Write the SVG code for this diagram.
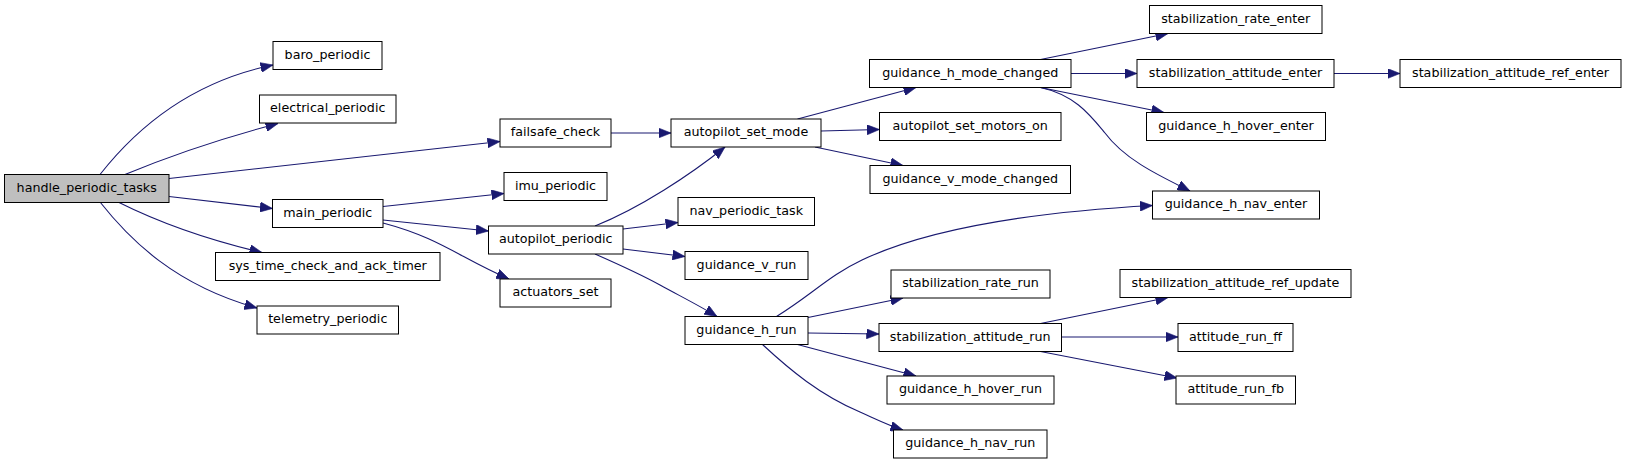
<svg xmlns="http://www.w3.org/2000/svg" width="1627" height="464" viewBox="0 0 1627 464">
<style>
.n rect{fill:#ffffff;stroke:#000000;stroke-width:1}
.n.root rect{fill:#bfbfbf}
.n text{font-family:"DejaVu Sans","Liberation Sans",sans-serif;font-size:12.7px;text-anchor:middle;fill:#000000}
#edges path{fill:none;stroke:#191970;stroke-width:1.1;marker-end:url(#ah)}
</style>
<defs>
<marker id="ah" markerUnits="userSpaceOnUse" markerWidth="13" markerHeight="10" refX="12.5" refY="5" orient="auto">
<path d="M0,0 L12.5,5 L0,10 z" fill="#191970" stroke="#191970" stroke-width="0.6"/>
</marker>
</defs>
<rect x="0" y="0" width="1627" height="464" fill="#ffffff"/>
<g id="edges">
<path d="M100,174.5 C135,130 190,82 273,65"/>
<path d="M125,174.5 C160,160 215,140 278,123.5"/>
<path d="M169,178.5 L500,141.5"/>
<path d="M169,196.5 L272.5,208.5"/>
<path d="M118,202 C150,218 200,238 262,252.5"/>
<path d="M100,202 C130,240 175,285 257,308"/>
<path d="M383,206.5 L504,193.5"/>
<path d="M383,220 L488.5,231"/>
<path d="M383,223 C440,238 460,258 509,279"/>
<path d="M611,133 L671,133"/>
<path d="M595,226 C640,208 690,175 725,147"/>
<path d="M623,229 L678,222.5"/>
<path d="M623,249 L685,256.5"/>
<path d="M595,254 C620,265 640,274 660,285 C680,296 700,306 717,316.5"/>
<path d="M797.5,119 L916,87.5"/>
<path d="M821,131 L879.5,129.5"/>
<path d="M815,147 L903,165.5"/>
<path d="M1040.5,59.5 L1168,33.5"/>
<path d="M1071,73.5 L1137,73.5"/>
<path d="M1334,73.5 L1400,73.5"/>
<path d="M1040.5,87.5 L1164,112.5"/>
<path d="M1040.5,87.5 C1075,95 1090,115 1105,133 C1125,160 1160,176 1190,191"/>
<path d="M776.5,316.5 C810,296 830,275 862,260 C900,242 980,215 1152.5,205.5"/>
<path d="M808,317.5 L903,298"/>
<path d="M808,333 L879,334"/>
<path d="M797.5,344.5 L916,376"/>
<path d="M762.5,344.5 C790,370 820,395 860,412 C880,421 890,426 903,430"/>
<path d="M1040.5,323.5 L1168,297.5"/>
<path d="M1061.5,337 L1178,337"/>
<path d="M1040.5,351.5 L1177,378"/>
</g>
<g id="n_handle_periodic_tasks" class="n root"><rect x="4.5" y="174.5" width="164.5" height="28"/><text x="86.7" y="191.5">handle_periodic_tasks</text></g>
<g id="n_baro_periodic" class="n"><rect x="273" y="41.5" width="109" height="28"/><text x="327.5" y="58.5">baro_periodic</text></g>
<g id="n_electrical_periodic" class="n"><rect x="259.5" y="95" width="136.5" height="28"/><text x="327.75" y="112">electrical_periodic</text></g>
<g id="n_main_periodic" class="n"><rect x="272.5" y="199.5" width="110.5" height="28"/><text x="327.75" y="216.5">main_periodic</text></g>
<g id="n_sys_time_check_and_ack_timer" class="n"><rect x="215.5" y="252.5" width="224.5" height="28"/><text x="327.75" y="269.5">sys_time_check_and_ack_timer</text></g>
<g id="n_telemetry_periodic" class="n"><rect x="257" y="306" width="141.5" height="28"/><text x="327.75" y="323">telemetry_periodic</text></g>
<g id="n_failsafe_check" class="n"><rect x="500" y="119" width="111" height="28"/><text x="555.5" y="136">failsafe_check</text></g>
<g id="n_imu_periodic" class="n"><rect x="504" y="172.5" width="103" height="28"/><text x="555.5" y="189.5">imu_periodic</text></g>
<g id="n_autopilot_periodic" class="n"><rect x="488.5" y="226" width="134.5" height="28"/><text x="555.75" y="243">autopilot_periodic</text></g>
<g id="n_actuators_set" class="n"><rect x="500" y="279" width="111" height="28"/><text x="555.5" y="296">actuators_set</text></g>
<g id="n_autopilot_set_mode" class="n"><rect x="671" y="119" width="150" height="28"/><text x="746" y="136">autopilot_set_mode</text></g>
<g id="n_nav_periodic_task" class="n"><rect x="678" y="197.5" width="136.5" height="28"/><text x="746.25" y="214.5">nav_periodic_task</text></g>
<g id="n_guidance_v_run" class="n"><rect x="685" y="251.5" width="123" height="28"/><text x="746.5" y="268.5">guidance_v_run</text></g>
<g id="n_guidance_h_run" class="n"><rect x="685" y="316.5" width="123" height="28"/><text x="746.5" y="333.5">guidance_h_run</text></g>
<g id="n_guidance_h_mode_changed" class="n"><rect x="869.5" y="59.5" width="201.5" height="28"/><text x="970.25" y="76.5">guidance_h_mode_changed</text></g>
<g id="n_autopilot_set_motors_on" class="n"><rect x="879.5" y="112.5" width="181.5" height="28"/><text x="970.25" y="129.5">autopilot_set_motors_on</text></g>
<g id="n_guidance_v_mode_changed" class="n"><rect x="870" y="165.5" width="200.5" height="28"/><text x="970.25" y="182.5">guidance_v_mode_changed</text></g>
<g id="n_stabilization_rate_run" class="n"><rect x="891" y="270" width="159" height="28"/><text x="970.5" y="287">stabilization_rate_run</text></g>
<g id="n_stabilization_attitude_run" class="n"><rect x="879" y="323.5" width="182.5" height="28"/><text x="970.25" y="340.5">stabilization_attitude_run</text></g>
<g id="n_guidance_h_hover_run" class="n"><rect x="887" y="376" width="167" height="28"/><text x="970.5" y="393">guidance_h_hover_run</text></g>
<g id="n_guidance_h_nav_run" class="n"><rect x="893.5" y="430" width="153.5" height="28"/><text x="970.25" y="447">guidance_h_nav_run</text></g>
<g id="n_stabilization_rate_enter" class="n"><rect x="1149.5" y="5.5" width="172.5" height="28"/><text x="1235.75" y="22.5">stabilization_rate_enter</text></g>
<g id="n_stabilization_attitude_enter" class="n"><rect x="1137" y="59.5" width="197" height="28"/><text x="1235.5" y="76.5">stabilization_attitude_enter</text></g>
<g id="n_guidance_h_hover_enter" class="n"><rect x="1146.5" y="112.5" width="179" height="28"/><text x="1236" y="129.5">guidance_h_hover_enter</text></g>
<g id="n_guidance_h_nav_enter" class="n"><rect x="1152.5" y="191" width="167" height="28"/><text x="1236" y="208">guidance_h_nav_enter</text></g>
<g id="n_stabilization_attitude_ref_update" class="n"><rect x="1120" y="269.5" width="231" height="28"/><text x="1235.5" y="286.5">stabilization_attitude_ref_update</text></g>
<g id="n_attitude_run_ff" class="n"><rect x="1178" y="323.5" width="115" height="28"/><text x="1235.5" y="340.5">attitude_run_ff</text></g>
<g id="n_attitude_run_fb" class="n"><rect x="1176" y="376" width="119.5" height="28"/><text x="1235.75" y="393">attitude_run_fb</text></g>
<g id="n_stabilization_attitude_ref_enter" class="n"><rect x="1400" y="59.5" width="221" height="28"/><text x="1510.5" y="76.5">stabilization_attitude_ref_enter</text></g>
</svg>
